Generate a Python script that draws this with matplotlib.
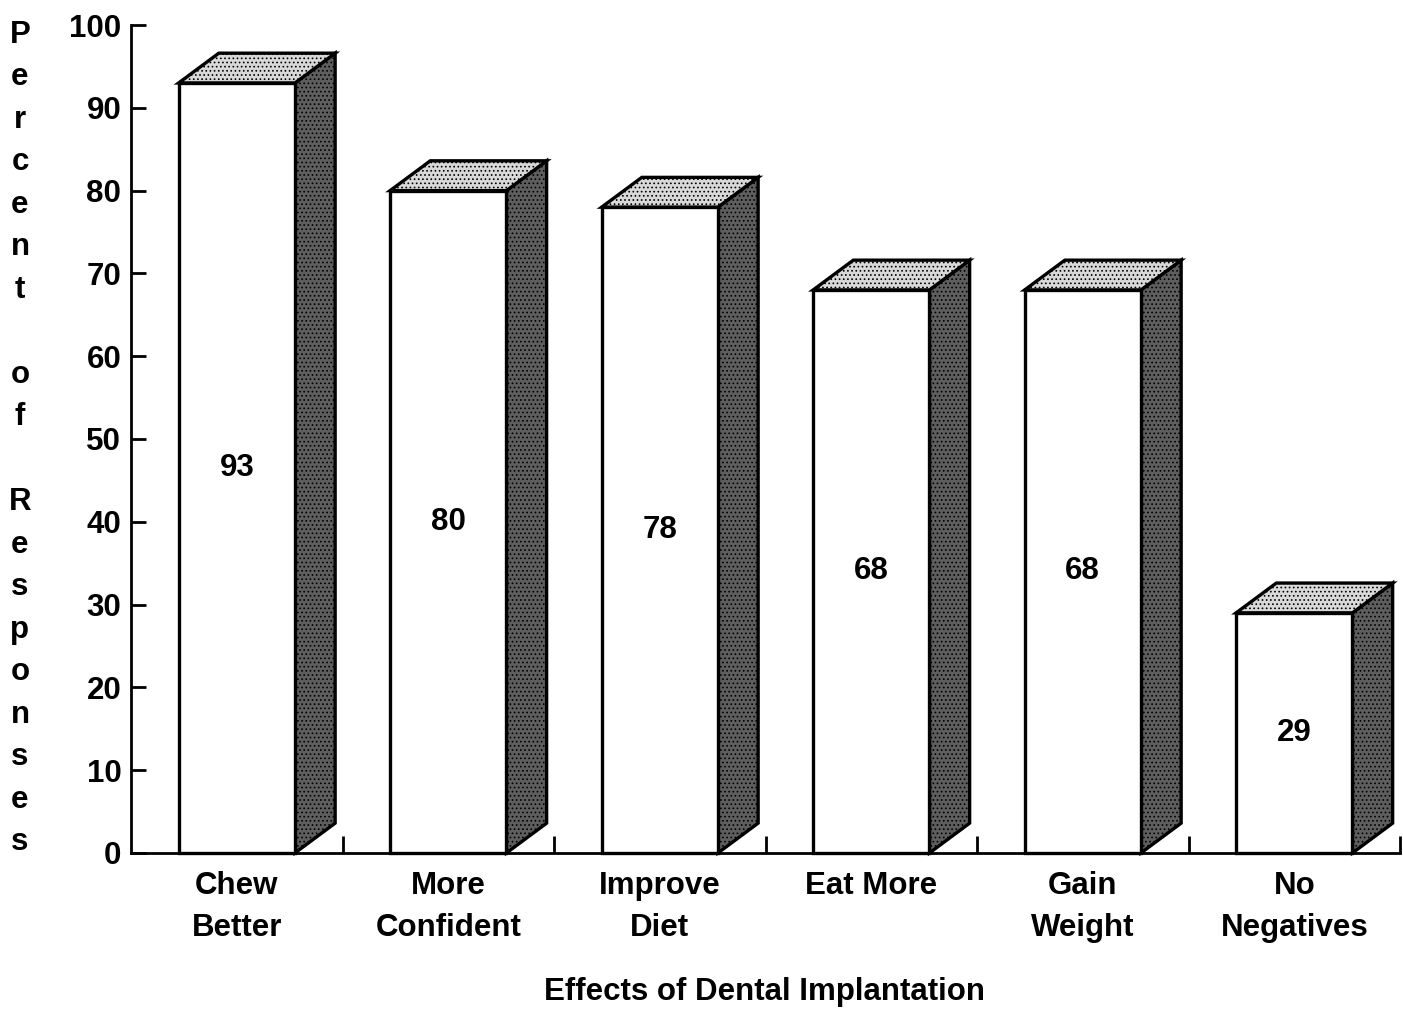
import matplotlib
matplotlib.use("Agg")
import matplotlib.pyplot as plt
from matplotlib.patches import Polygon, Rectangle

# values
categories = ["Chew\nBetter", "More\nConfident", "Improve\nDiet", "Eat More",
              "Gain\nWeight", "No\nNegatives"]
percents = [93, 80, 78, 68, 68, 29]
yticks = list(range(0, 101, 10))
ylabel = "Percent of Responses"
xlabel = "Effects of Dental Implantation"

plt.rcParams["font.family"] = ["Liberation Sans", "DejaVu Sans"]
plt.rcParams["font.weight"] = "bold"
plt.rcParams["hatch.linewidth"] = 0.7

FS = 22.5

fig = plt.figure(figsize=(14.03, 10.17), dpi=100)
ax = fig.add_axes([0.0934, 0.1613, 0.9045, 0.8141])

width = 0.55   # front face width (category units)
dx = 0.19      # depth offset in x
dy = 3.6       # depth offset in y (data units)
lw = 2.4

for i, v in enumerate(percents):
    x0 = i - width / 2
    x1 = i + width / 2
    front = Rectangle((x0, 0), width, v, facecolor="white", edgecolor="black",
                      linewidth=lw, zorder=3, clip_on=False)
    side = Polygon([(x1, 0), (x1 + dx, dy), (x1 + dx, v + dy), (x1, v)],
                   closed=True, facecolor="#5e5e5e", edgecolor="black",
                   hatch="....", linewidth=lw, zorder=3, clip_on=False)
    top = Polygon([(x0, v), (x0 + dx, v + dy), (x1 + dx, v + dy), (x1, v)],
                  closed=True, facecolor="#d8d8d8", edgecolor="black",
                  hatch="....", linewidth=lw, zorder=3, clip_on=False)
    ax.add_patch(side)
    ax.add_patch(top)
    ax.add_patch(front)
    ax.text(i, v / 2, str(v), ha="center", va="center", fontsize=FS,
            fontweight="bold", zorder=4)

ax.set_xlim(-0.5, 5.5)
ax.set_ylim(0, 100)

ax.spines["top"].set_visible(False)
ax.spines["right"].set_visible(False)
ax.spines["left"].set_linewidth(2.0)
ax.spines["bottom"].set_linewidth(2.0)

ax.set_yticks(yticks)
ax.set_yticklabels([str(t) for t in yticks], fontsize=FS, fontweight="bold")
ax.tick_params(axis="y", direction="in", length=11, width=2.0, pad=7)

ax.set_xticks(range(len(categories)))
ax.set_xticklabels(categories, fontsize=FS, fontweight="bold",
                   va="top", linespacing=1.5)
ax.tick_params(axis="x", which="major", length=0, pad=13)
ax.set_xticks([i + 0.5 for i in range(len(categories))], minor=True)
ax.tick_params(axis="x", which="minor", direction="in", length=12, width=2.0)

# stacked vertical y label, one letter per line
n = len(ylabel)
y_first, y_last = 35, 842
for k, ch in enumerate(ylabel):
    if ch == " ":
        continue
    ypx = y_first + k * (y_last - y_first) / (n - 1)
    fig.text(20 / 1403, 1 - ypx / 1017, ch, ha="center", va="center",
             fontsize=FS, fontweight="bold")

fig.text(765 / 1403, 1 - 992 / 1017, xlabel, ha="center", va="center",
         fontsize=FS, fontweight="bold")

fig.savefig("out.png", dpi=100)
